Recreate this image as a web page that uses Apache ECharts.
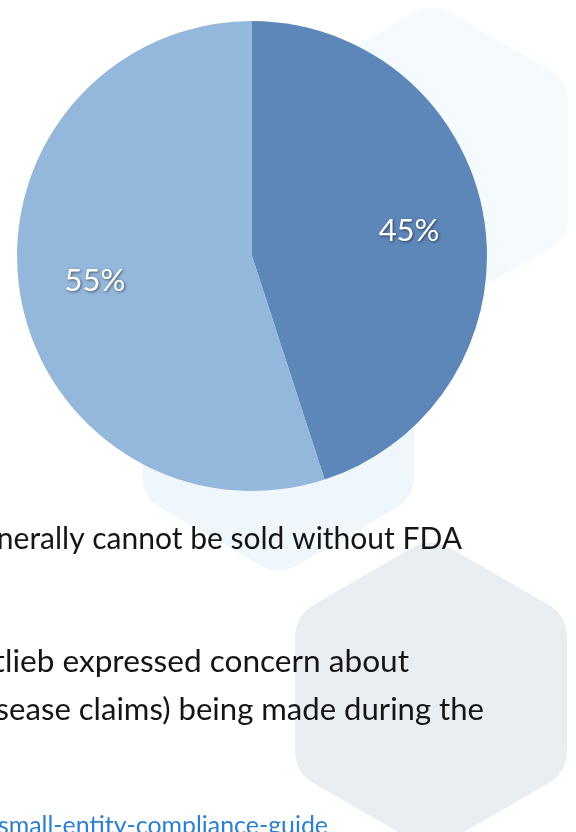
<!DOCTYPE html>
<html>
<head>
<meta charset="utf-8">
<script src="https://cdn.jsdelivr.net/npm/echarts@6/dist/echarts.min.js"></script>
<style>
html,body{margin:0;padding:0;background:#fff;overflow:hidden;}
#chart{width:576px;height:832px;}
</style>
</head>
<body>
<div id="chart"></div>
<script>
// Data
const categories = ['Yes', 'No'];
const values = [45, 55];
const sliceColors = ['#5e87b9', '#94b8db'];

// Surrounding page text (partially cut off in the reference)
const bodyLines = [
  'generally cannot be sold without FDA',
  'Gottlieb expressed concern about',
  'disease claims) being made during the'
];
const linkText = 'small-entity-compliance-guide';

// Rounded pointy-top hexagon as a polygon point list
function roundedHex(cx, cy, R, rc) {
  const v = [];
  for (let i = 0; i < 6; i++) {
    const a = (-90 + 60 * i) * Math.PI / 180;
    v.push([cx + R * Math.cos(a), cy + R * Math.sin(a)]);
  }
  const out = [];
  for (let i = 0; i < 6; i++) {
    const p = v[i], prev = v[(i + 5) % 6], next = v[(i + 1) % 6];
    const l1 = Math.hypot(prev[0] - p[0], prev[1] - p[1]);
    const l2 = Math.hypot(next[0] - p[0], next[1] - p[1]);
    const a1 = [p[0] + (prev[0] - p[0]) * rc / l1, p[1] + (prev[1] - p[1]) * rc / l1];
    const a2 = [p[0] + (next[0] - p[0]) * rc / l2, p[1] + (next[1] - p[1]) * rc / l2];
    for (let k = 0; k <= 12; k++) {
      const t = k / 12, u = 1 - t;
      out.push([u * u * a1[0] + 2 * u * t * p[0] + t * t * a2[0],
                u * u * a1[1] + 2 * u * t * p[1] + t * t * a2[1]]);
    }
  }
  return out;
}

const chart = echarts.init(document.getElementById('chart'), null, {renderer: 'canvas'});
const pieData = categories.map((c, i) => ({name: c, value: values[i], itemStyle: {color: sliceColors[i]}}));
const labelData = categories.map((c, i) => ({name: c, value: values[i]}));

const textStyle = {fontFamily: 'Lato', fontSize: 30, fill: '#151515', align: 'right', verticalAlign: 'middle'};

chart.setOption({
  backgroundColor: '#ffffff',
  animation: false,
  graphic: [
    {type: 'polygon', z: -10, shape: {points: roundedHex(432, 159, 157, 22)}, style: {fill: '#f5fafe'}},
    {type: 'polygon', z: -10, shape: {points: roundedHex(278.5, 419, 157, 22)}, style: {fill: '#eff7fd'}},
    {type: 'polygon', z: -9, shape: {points: roundedHex(431, 694, 157, 22)}, style: {fill: '#e9eef3'}},
    {type: 'text', z: 5, x: 462, y: 539, style: Object.assign({text: bodyLines[0]}, textStyle)},
    {type: 'text', z: 5, x: 409, y: 662, style: Object.assign({text: bodyLines[1]}, textStyle, {fontSize: 31.6})},
    {type: 'text', z: 5, x: 484, y: 710, style: Object.assign({text: bodyLines[2]}, textStyle, {fontSize: 31.1})},
    {type: 'text', z: 5, x: 328, y: 826, style: Object.assign({text: linkText}, textStyle, {fontSize: 24.9, fill: '#2d7fd0'})}
  ],
  series: [
    {
      type: 'pie',
      center: [252, 256],
      radius: [0, 235],
      startAngle: 90,
      clockwise: true,
      silent: true,
      label: {show: false},
      labelLine: {show: false},
      emphasis: {disabled: true},
      itemStyle: {borderWidth: 0},
      data: pieData
    },
    {
      type: 'pie',
      center: [252, 256],
      radius: [77, 235],
      startAngle: 90,
      clockwise: true,
      silent: true,
      z: 3,
      itemStyle: {color: 'rgba(0,0,0,0)', borderWidth: 0},
      emphasis: {disabled: true},
      labelLine: {show: false},
      label: {
        show: true,
        position: 'inside',
        formatter: p => p.value + '%',
        color: '#ffffff',
        fontFamily: 'Lato',
        fontSize: 31,
        textShadowColor: 'rgba(0,0,0,0.55)',
        textShadowBlur: 3,
        textShadowOffsetX: 1,
        textShadowOffsetY: 1
      },
      data: labelData
    }
  ]
});
</script>
</body>
</html>
